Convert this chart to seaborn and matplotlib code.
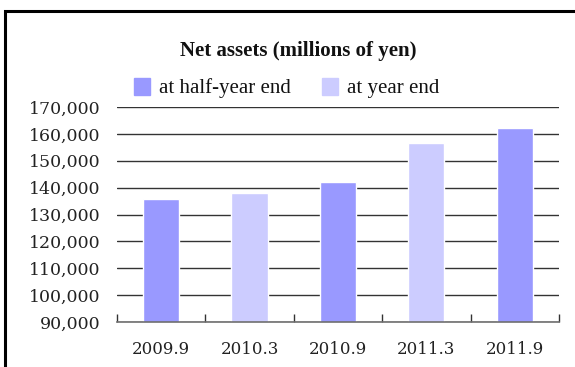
import matplotlib
matplotlib.use("Agg")
import matplotlib.pyplot as plt
import seaborn as sns
import pandas as pd
from matplotlib.patches import Rectangle
from matplotlib.ticker import FuncFormatter

periods = ["2009.9", "2010.3", "2010.9", "2011.3", "2011.9"]
net_assets = [135700, 137900, 142000, 156500, 162300]
series = ["at half-year end", "at year end", "at half-year end", "at year end", "at half-year end"]
y_ticks = [90000, 100000, 110000, 120000, 130000, 140000, 150000, 160000, 170000]
title = "Net assets (millions of yen)"

df = pd.DataFrame({"period": periods, "value": net_assets, "series": series})

sns.set_theme(style="white")
plt.rcParams["font.family"] = ["Liberation Serif", "DejaVu Serif"]

fig = plt.figure(figsize=(5.75, 3.67), dpi=100)
ax = fig.add_axes([0.2035, 0.1226, 0.7685, 0.5858])

palette = {"at half-year end": "#9999FF", "at year end": "#CCCCFF"}
sns.barplot(data=df, x="period", y="value", hue="series", order=periods,
            hue_order=["at half-year end", "at year end"], palette=palette,
            dodge=False, width=0.41, ax=ax, legend=False, saturation=1, zorder=2)

ax.set_ylim(90000, 170000)
ax.set_xlim(-0.5, 4.5)
ax.set_yticks(y_ticks)
ax.yaxis.set_major_formatter(FuncFormatter(lambda v, p: f"{int(v):,}"))
ax.grid(axis="y", color="#333333", linewidth=1.0, zorder=0)
ax.set_axisbelow(True)
for s in ["left", "right", "top"]:
    ax.spines[s].set_visible(False)
ax.spines["bottom"].set_color("#707070")
ax.spines["bottom"].set_linewidth(1.2)
ax.spines["bottom"].set_zorder(5)
ax.tick_params(axis="y", length=0, pad=12, labelsize=12.5, colors="#222222")
ax.set_xticks([-0.5, 0.5, 1.5, 2.5, 3.5, 4.5], minor=True)
ax.set_xticks(range(len(periods)))
ax.set_xticklabels(periods)
ax.tick_params(axis="x", which="major", length=0, pad=14, labelsize=12, colors="#222222")
ax.tick_params(axis="x", which="minor", direction="in", length=6, width=1, color="#333333", bottom=True)
for lab in ax.get_xticklabels() + ax.get_yticklabels():
    lab.set_fontfamily("DejaVu Serif")
ax.set_xlabel("")
ax.set_ylabel("")

fig.text(298 / 575, 1 - 51 / 367, title, ha="center", va="center",
         fontsize=15, fontweight="bold", color="#111111")

# legend
for xs, label in [(134, "at half-year end"), (322, "at year end")]:
    fig.patches.append(Rectangle((xs / 575, 1 - 95 / 367), 16 / 575, 17 / 367,
                                 transform=fig.transFigure, color=palette[label]))
    fig.text((xs + 25) / 575, 1 - 88 / 367, label, ha="left", va="center",
             fontsize=15, color="#111111")

# frame
fig.patches.append(Rectangle((5 / 575, -0.05), 1.2, (1 - 11 / 367) + 0.05,
                             transform=fig.transFigure, fill=False,
                             edgecolor="black", linewidth=2.2))

fig.savefig("out.png", dpi=100)
